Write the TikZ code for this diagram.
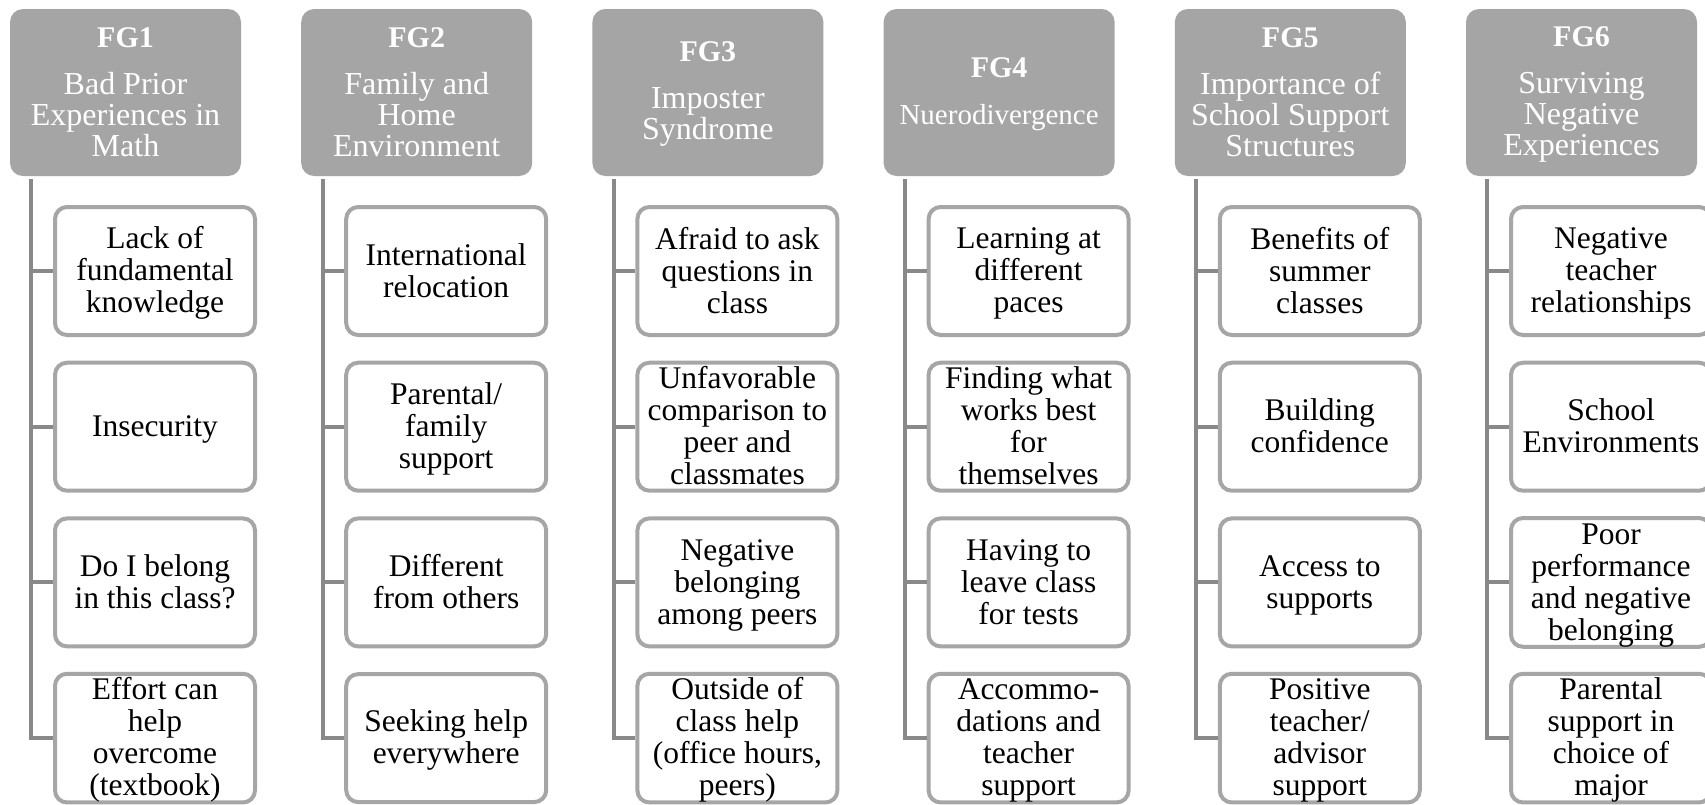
\documentclass[tikz,border=0pt]{standalone}
\usepackage{fontspec}
\setmainfont{Liberation Serif}
\definecolor{hdrgray}{HTML}{A5A5A5}
\definecolor{boxgray}{HTML}{A6A6A6}
\definecolor{conngray}{HTML}{898989}
\newcommand\cstrut{\rule{0pt}{26pt}}
\newcommand\cend{\rule[-6pt]{0pt}{6pt}}
\newcommand\hend{\rule[-5pt]{0pt}{5pt}}
\newcommand\fglabel[1]{\rule{0pt}{23.5pt}{\fontsize{30}{30}\selectfont\bfseries #1}}
\newcommand\fgcol[6]{%
  \pgfmathsetmacro\fgdx{291.2*#1}%
  \pgfmathtruncatemacro\fgnum{#1+1}%
  \node[hdr] (h#1) at (125.5+\fgdx,92.5) {\fglabel{FG\fgnum}\\[16pt]#2\hend};
  \coordinate (t#1) at (31.3+\fgdx,179);
  \node[sub] (c#1a) at (155+\fgdx,271) {\cstrut #3\cend};
  \node[sub] (c#1b) at (155+\fgdx,426.7) {\cstrut #4\cend};
  \node[sub] (c#1c) at (155+\fgdx,582.4) {\cstrut #5\cend};
  \node[sub] (c#1d) at (155+\fgdx,738.1) {\cstrut #6\cend};
  \foreach \k in {a,b,c,d}{\draw[conn] (t#1) |- (c#1\k.west);}
}
\begin{document}
\begin{tikzpicture}[x=1pt,y=-1pt,
  hdr/.style={fill=hdrgray, rounded corners=13pt, minimum width=231pt, minimum height=167pt,
    inner sep=0pt, text=white, align=center, font=\fontsize{32}{31}\selectfont},
  sub/.style={draw=boxgray, line width=4pt, fill=white, rounded corners=12pt,
    minimum width=200pt, minimum height=128pt, inner sep=0pt, align=center,
    font=\fontsize{31.5}{32}\selectfont},
  conn/.style={draw=conngray, line width=4pt}]
\useasboundingbox (0,0) rectangle (1705,804);
\clip (0,0) rectangle (1705,804);
\fill[white] (0,0) rectangle (1705,804);
\fgcol{0}{Bad Prior\\Experiences in\\Math}{Lack of\\fundamental\\knowledge}{Insecurity}{Do I belong\\in this class?}{Effort can\\help\\overcome\\(textbook)}
\fgcol{1}{Family and\\Home\\Environment}{International\\relocation}{Parental/\\family\\support}{Different\\from others}{Seeking help\\everywhere}
\fgcol{2}{Imposter\\Syndrome}{Afraid to ask\\questions in\\class}{Unfavorable\\comparison to\\peer and\\classmates}{Negative\\belonging\\among peers}{Outside of\\class help\\(office hours,\\peers)}
\fgcol{3}{{\fontsize{29}{31}\selectfont Nuerodivergence}}{Learning at\\different\\paces}{Finding what\\works best\\for\\themselves}{Having to\\leave class\\for tests}{Accommo-\\dations and\\teacher\\support}
\fgcol{4}{Importance of\\School Support\\Structures}{Benefits of\\summer\\classes}{Building\\confidence}{Access to\\supports}{Positive\\teacher/\\advisor\\support}
\fgcol{5}{Surviving\\Negative\\Experiences}{Negative\\teacher\\relationships}{School\\Environments}{Poor\\performance\\and negative\\belonging}{Parental\\support in\\choice of\\major}
\end{tikzpicture}
\end{document}
